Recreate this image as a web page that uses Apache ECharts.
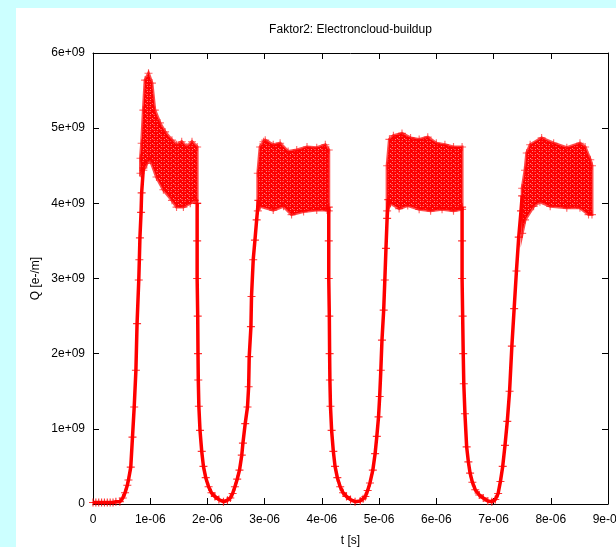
<!DOCTYPE html>
<html><head><meta charset="utf-8">
<script src="https://cdn.jsdelivr.net/npm/echarts@6/dist/echarts.min.js"></script>
<style>
html,body{margin:0;padding:0;width:616px;height:547px;overflow:hidden;background:#ccffff;}
#c{position:absolute;left:16px;top:8px;width:640px;height:560px;background:#fff;}
</style></head><body><div id="c"></div>
<script>
// ---- text ----
const TITLE = 'Faktor2: Electroncloud-buildup';
const X_NAME = 't [s]';
const Y_NAME = 'Q [e-/m]';
// ---- ticks (t in microseconds, Q in 1e9 e-/m) ----
const X_TICKS = [0,1,2,3,4,5,6,7,8,9];
const X_TICK_LABELS = ['0','1e-06','2e-06','3e-06','4e-06','5e-06','6e-06','7e-06','8e-06','9e-06'];
const Y_TICKS = [0,1,2,3,4,5,6];
const Y_TICK_LABELS = ['0','1e+09','2e+09','3e+09','4e+09','5e+09','6e+09'];

// ---- single-valued parts of the signal: [t (us), Q (1e9 e-/m)] ----
const rise1 = [[0,0.02],[0.05,0.02],[0.1,0.02],[0.15,0.02],[0.2,0.02],[0.25,0.02],[0.3,0.02],[0.35,0.02],[0.4,0.03],[0.47,0.03],[0.52,0.08],[0.56,0.15],[0.6,0.25],[0.62,0.32],[0.66,0.49],[0.69,0.89],[0.72,1.29],[0.75,1.78],[0.77,2.4],[0.8,2.98],[0.81,3.25],[0.82,3.54],[0.84,3.88],[0.85,4.14],[0.88,4.47]];
const fall1rise2 = [[1.82,4.0],[1.82,3.5],[1.82,3.0],[1.83,2.5],[1.835,2.0],[1.84,1.65],[1.85,1.3],[1.87,0.98],[1.9,0.7],[1.93,0.5],[1.97,0.35],[2.02,0.23],[2.07,0.15],[2.13,0.1],[2.2,0.06],[2.28,0.03],[2.35,0.05],[2.4,0.08],[2.44,0.14],[2.48,0.23],[2.52,0.33],[2.56,0.45],[2.6,0.65],[2.62,0.81],[2.66,1.07],[2.7,1.29],[2.72,1.56],[2.73,1.96],[2.76,2.36],[2.77,2.76],[2.8,3.25],[2.83,3.51],[2.86,3.78],[2.89,4.04]];
const fall2rise3 = [[4.12,3.95],[4.12,3.5],[4.12,3.0],[4.13,2.5],[4.135,2.0],[4.14,1.65],[4.15,1.3],[4.17,0.98],[4.2,0.7],[4.23,0.5],[4.27,0.35],[4.32,0.23],[4.37,0.15],[4.43,0.1],[4.5,0.06],[4.58,0.03],[4.67,0.04],[4.72,0.07],[4.76,0.1],[4.8,0.18],[4.84,0.28],[4.89,0.45],[4.93,0.67],[4.96,0.9],[4.99,1.16],[5.01,1.43],[5.03,1.78],[5.05,2.18],[5.08,2.58],[5.1,2.98],[5.12,3.4],[5.14,3.8],[5.16,4.05]];
const fall3rise4 = [[6.45,3.95],[6.45,3.5],[6.45,3.0],[6.46,2.5],[6.47,2.0],[6.48,1.6],[6.5,1.2],[6.53,0.76],[6.56,0.56],[6.59,0.41],[6.63,0.29],[6.68,0.19],[6.75,0.12],[6.82,0.08],[6.9,0.04],[6.97,0.03],[7.03,0.06],[7.08,0.14],[7.12,0.3],[7.16,0.5],[7.2,0.78],[7.24,1.1],[7.28,1.5],[7.32,2.1],[7.36,2.6],[7.4,3.1],[7.44,3.55],[7.48,3.9],[7.5,4.1]];

// ---- multi-valued plateaus: upper and lower envelopes ----
const band1Upper = [[0.83,4.6],[0.85,4.8],[0.88,5.24],[0.91,5.64],[0.97,5.73],[1.03,5.6],[1.08,5.24],[1.17,5.07],[1.26,4.95],[1.38,4.84],[1.46,4.78],[1.55,4.82],[1.64,4.75],[1.73,4.82],[1.82,4.75]];
const band1Lower = [[0.83,4.4],[0.88,4.44],[0.94,4.53],[1.0,4.58],[1.11,4.35],[1.23,4.18],[1.38,4.04],[1.46,3.95],[1.58,3.95],[1.7,4.0],[1.78,4.04],[1.82,4.0]];
const band2Upper = [[2.88,4.4],[2.92,4.75],[2.98,4.82],[3.01,4.84],[3.15,4.78],[3.27,4.8],[3.41,4.69],[3.56,4.71],[3.74,4.75],[3.91,4.74],[4.06,4.78],[4.12,4.71]];
const band2Lower = [[2.88,3.9],[2.92,3.96],[3.15,3.91],[3.33,3.96],[3.47,3.85],[3.68,3.89],[3.91,3.91],[4.09,3.91],[4.12,3.9]];
const band3Upper = [[5.14,4.5],[5.18,4.85],[5.25,4.9],[5.4,4.93],[5.55,4.87],[5.7,4.85],[5.85,4.88],[6.0,4.8],[6.15,4.78],[6.3,4.75],[6.45,4.75]];
const band3Lower = [[5.14,3.9],[5.2,4.0],[5.35,3.93],[5.5,3.97],[5.7,3.92],[5.9,3.9],[6.1,3.92],[6.3,3.9],[6.45,3.92]];
const band4Upper = [[7.5,4.2],[7.55,4.44],[7.58,4.67],[7.64,4.78],[7.84,4.87],[8.05,4.8],[8.28,4.74],[8.51,4.8],[8.6,4.75],[8.69,4.58],[8.72,4.5]];
const band4Lower = [[7.5,3.6],[7.55,3.78],[7.7,3.96],[7.81,4.02],[7.99,3.96],[8.28,3.94],[8.51,3.94],[8.66,3.85],[8.72,3.85]];

const CURVES = [rise1, fall1rise2, fall2rise3, fall3rise4];
const BANDS = [[band1Upper,band1Lower],[band2Upper,band2Lower],[band3Upper,band3Lower],[band4Upper,band4Lower]];

const FONT = '"Liberation Sans", Arial, Helvetica, sans-serif';
const RED = '#ff0000';
const PLUS = 'path://M3,0h1v3h3v1h-3v3h-1v-3h-3v-1h3z';

function lab(ticks, labels){
  return v => { const i = ticks.findIndex(t => Math.abs(t - v) < 1e-9); return i >= 0 ? labels[i] : ''; };
}

// texture tile imitating densely overlapping "+" marks
const tile = document.createElement('canvas');
tile.width = 7; tile.height = 5;
(function(){
  const g = tile.getContext('2d');
  g.fillStyle = 'rgb(255,0,0)'; g.fillRect(0,0,7,5);
  g.fillStyle = 'rgba(255,150,150,0.9)';
  g.fillRect(1,1,1,1); g.fillRect(5,3,1,1); g.fillRect(3,0,1,1);
  g.fillStyle = 'rgba(255,90,90,0.8)';
  g.fillRect(0,3,2,1); g.fillRect(4,1,2,1);
})();

const chart = echarts.init(document.getElementById('c'), null, {renderer:'canvas'});
const GRID = {left:77, top:45, width:515, height:451};

const axisCommon = {
  type:'value',
  axisLine:{show:true, onZero:false, lineStyle:{color:'#000', width:1}},
  axisTick:{show:true, inside:true, length:6, lineStyle:{color:'#000', width:1}},
  splitLine:{show:false}
};

const series = [];
series.push({
  type:'custom', coordinateSystem:'cartesian2d', silent:true, z:1,
  data: BANDS.map((b,i)=>[i]),
  encode:{x:-1,y:-1},
  renderItem(params, api){
    const b = BANDS[api.value(0)];
    const pts = b[0].map(p=>api.coord(p)).concat(b[1].slice().reverse().map(p=>api.coord(p)));
    return {type:'polygon', shape:{points:pts}, style:{fill:{image:tile, repeat:'repeat'}, stroke:'rgba(255,0,0,0.7)', lineWidth:3}};
  }
});
CURVES.forEach(c => series.push({
  type:'line', data:c, z:2, showSymbol:true, showAllSymbol:true,
  symbol:PLUS, symbolSize:8,
  lineStyle:{color:RED, width:3.5},
  itemStyle:{color:'rgba(255,0,0,0.8)'}
}));
BANDS.forEach(b => b.forEach(edge => series.push({
  type:'scatter', data:edge, z:3, symbol:PLUS, symbolSize:8,
  itemStyle:{color:'rgba(255,0,0,0.75)'}
})));

chart.setOption({
  animation:false,
  backgroundColor:'#fff',
  grid:GRID,
  xAxis:[
    Object.assign({}, axisCommon, {position:'bottom', min:0, max:9, interval:1,
      axisLabel:{show:true, color:'#000', fontSize:12, fontFamily:FONT, margin:10, formatter:lab(X_TICKS,X_TICK_LABELS), showMaxLabel:true}}),
    Object.assign({}, axisCommon, {position:'top', min:0, max:9, interval:1, axisLabel:{show:false}})
  ],
  yAxis:[
    Object.assign({}, axisCommon, {position:'left', min:0, max:6, interval:1,
      axisLabel:{show:true, color:'#000', fontSize:12, fontFamily:FONT, margin:8, formatter:lab(Y_TICKS,Y_TICK_LABELS)}}),
    Object.assign({}, axisCommon, {position:'right', min:0, max:6, interval:1, axisLabel:{show:false}})
  ],
  graphic:[
    {type:'text', x:GRID.left + GRID.width/2, y:22, style:{text:TITLE, fill:'#000', font:'12px '+FONT, textAlign:'center', textVerticalAlign:'middle'}},
    {type:'text', x:20, y:GRID.top + GRID.height/2, rotation:Math.PI/2,
      style:{text:Y_NAME, fill:'#000', font:'12px '+FONT, textAlign:'center', textVerticalAlign:'middle'}},
    {type:'text', x:GRID.left + GRID.width/2, y:533, style:{text:X_NAME, fill:'#000', font:'12px '+FONT, textAlign:'center', textVerticalAlign:'middle'}}
  ],
  series
});
</script></body></html>
